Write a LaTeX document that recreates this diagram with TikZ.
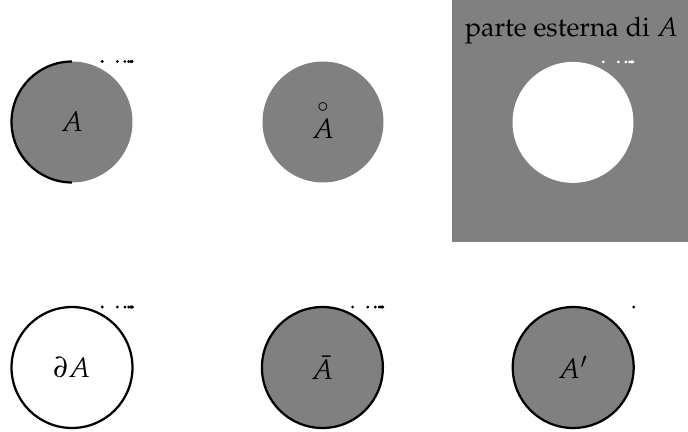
\documentclass[tikz,border=0pt]{standalone}
\usepackage[T1]{fontenc}
\usepackage{mathpazo}
\begin{document}
\begin{tikzpicture}
\useasboundingbox (0,0) rectangle (8.6,5.4);
\def\R{0.756}
\tikzset{
  setfill/.style={fill=black!50},
  setline/.style={draw=black, line width=0.8pt},
  lbl/.style={inner sep=0pt}
}
\coordinate (c1) at (0.9,3.875);
\coordinate (c2) at (4.0375,3.875);
\coordinate (c3) at (7.1625,3.87);
\coordinate (c4) at (0.9,0.806);
\coordinate (c5) at (4.03,0.806);
\coordinate (c6) at (7.165,0.806);
% exterior
\fill[black!50] (5.65,2.375) rectangle (8.6,5.4);
\node[anchor=base, scale=0.955] (ext) at (7.145,4.94) {parte esterna di $A$};
% A
\fill[setfill] (c1) circle (\R);
\draw[setline] (c1) ++(0,\R) arc[start angle=90, end angle=270, radius=\R];
\node[lbl] (l1) at (c1) {$A$};
% interior
\fill[setfill] (c2) circle (\R);
\node[lbl] (l2) at ([yshift=1pt]c2) {$\stackrel{\circ}{A}$};
% exterior circle
\fill[white] (c3) circle (\R);
% boundary
\draw[setline] (c4) circle (\R);
\node[lbl] (l4) at (c4) {$\partial A$};
% closure
\filldraw[setfill, setline] (c5) circle (\R);
\node[lbl] (l5) at (c5) {$\bar{A}$};
% derived
\filldraw[setfill, setline] (c6) circle (\R);
\node[lbl] (l6) at (c6) {$A'$};
% sequences
\foreach \c/\col in {c1/black, c3/white, c4/black, c5/black}{
  \foreach \n in {1,...,7}{
    \fill[\col] (\c) ++({\R-\R/2^\n},\R) circle (0.55pt);
  }
}
\foreach \c in {c4,c5,c6}{
  \fill[black] (\c) ++(\R,\R) circle (0.55pt);
}
\end{tikzpicture}
\end{document}
